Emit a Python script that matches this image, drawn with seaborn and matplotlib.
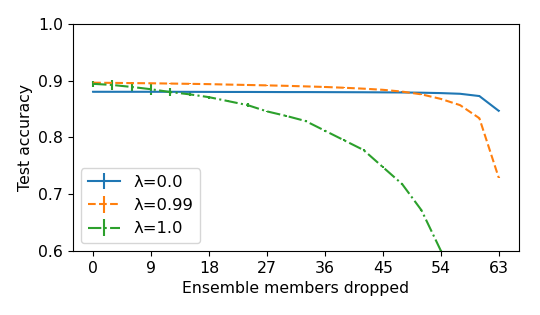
import numpy as np
import pandas as pd
import matplotlib
matplotlib.use("Agg")
import matplotlib.pyplot as plt
import seaborn as sns

# members dropped, every 3 out of 64
dropped = list(range(0, 64, 3))

acc_l0 = [0.8805, 0.8805, 0.8805, 0.8805, 0.8805, 0.8804, 0.8803, 0.8802, 0.8802,
          0.8801, 0.8800, 0.8800, 0.8799, 0.8798, 0.8797, 0.8795, 0.8793, 0.8789,
          0.8782, 0.8770, 0.8730, 0.8470]
err_l0 = [0.001] * len(dropped)

acc_l099 = [0.8965, 0.8962, 0.8958, 0.8955, 0.8950, 0.8945, 0.8940, 0.8932, 0.8925,
            0.8918, 0.8910, 0.8900, 0.8890, 0.8876, 0.8860, 0.8840, 0.8808, 0.8760,
            0.8680, 0.8570, 0.8340, 0.7295]
err_l099 = [0.001] * len(dropped)

acc_l1 = [0.8945, 0.8925, 0.8890, 0.8850, 0.8800, 0.8760, 0.8710, 0.8640, 0.8570,
          0.8460, 0.8380, 0.8290, 0.8120, 0.7950, 0.7780, 0.7480, 0.7180, 0.6720,
          0.6010, 0.5000, 0.4000, 0.3000]
err_l1 = [0.0053, 0.0090, 0.0080, 0.0094, 0.0073, 0.0035, 0.0025, 0.0020, 0.0035,
          0.0015, 0.0015, 0.0015, 0.0015, 0.0015, 0.0015, 0.0015, 0.0015, 0.0015,
          0.0015, 0.0015, 0.0015, 0.0015]

labels = ["λ=0.0", "λ=0.99", "λ=1.0"]
series = [(acc_l0, err_l0, "-"), (acc_l099, err_l099, "--"), (acc_l1, err_l1, "-.")]

plt.rcParams["font.family"] = ["DejaVu Sans"]
plt.rcParams["font.size"] = 11.3
palette = sns.color_palette("tab10")

fig, ax = plt.subplots(figsize=(5.4, 3.15), dpi=100)
for i, (acc, err, ls) in enumerate(series):
    ax.errorbar(dropped, acc, yerr=err, linestyle=ls, color=palette[i],
                label=labels[i], linewidth=1.5)

ax.set_ylim(0.6, 1.0)
ax.set_xticks(range(0, 64, 9))
ax.set_yticks([0.6, 0.7, 0.8, 0.9, 1.0])
ax.set_xlabel("Ensemble members dropped")
ax.set_ylabel("Test accuracy")
ax.legend(loc="lower left", fontsize=11.8)
fig.subplots_adjust(left=0.135, right=0.961, top=0.924, bottom=0.203)
fig.savefig("out.png", dpi=100)
